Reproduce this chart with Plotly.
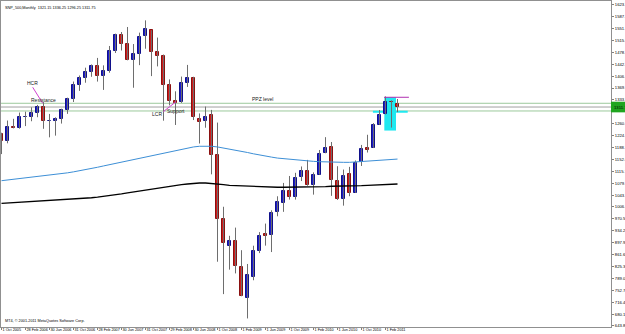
import plotly.graph_objects as go

# ---------------- data ----------------
months = []
y, m = 2005, 10
for _ in range(67):
    months.append(f"{y}-{m:02d}")
    m += 1
    if m > 12:
        m, y = 1, y + 1

opens = [1228.8, 1207.0, 1249.5, 1248.3, 1280.1, 1280.7, 1294.8, 1310.6, 1270.1, 1270.2,
         1276.7, 1303.8, 1335.9, 1377.9, 1400.6, 1418.0, 1437.9, 1406.8, 1420.8, 1482.4,
         1530.6, 1504.7, 1455.2, 1474.0, 1527.3, 1545.8, 1479.6, 1468.0, 1378.6, 1330.5,
         1326.4, 1386.0, 1399.6, 1276.7, 1269.4, 1287.8, 1164.2, 968.7, 888.6, 903.0,
         823.1, 729.6, 793.6, 872.7, 923.3, 920.8, 990.2, 1019.5, 1054.9, 1036.2,
         1098.9, 1116.6, 1073.9, 1105.4, 1171.2, 1188.6, 1087.3, 1031.1, 1107.5, 1049.7,
         1143.5, 1185.7, 1186.6, 1257.6, 1289.1, 1328.6, 1321.15]
highs = [1233.3, 1270.6, 1275.8, 1294.9, 1297.6, 1310.9, 1318.2, 1326.7, 1290.7, 1280.4,
         1306.7, 1340.3, 1389.5, 1407.9, 1431.8, 1441.6, 1461.6, 1438.9, 1498.0, 1535.6,
         1540.6, 1555.9, 1503.9, 1538.7, 1576.1, 1545.8, 1523.6, 1471.8, 1396.0, 1359.7,
         1404.6, 1440.2, 1404.1, 1292.2, 1313.2, 1303.0, 1264.3, 1007.5, 918.9, 943.9,
         875.0, 833.0, 888.7, 930.2, 956.2, 996.7, 1039.5, 1080.2, 1101.4, 1111.1,
         1130.4, 1150.5, 1112.4, 1180.7, 1219.8, 1205.1, 1131.2, 1121.0, 1129.2, 1148.7,
         1196.1, 1227.1, 1262.6, 1302.7, 1344.1, 1332.3, 1336.25]
lows = [1168.2, 1201.1, 1246.6, 1245.7, 1253.6, 1268.4, 1280.7, 1245.3, 1219.3, 1224.5,
        1261.3, 1290.9, 1327.1, 1361.0, 1385.9, 1404.0, 1389.4, 1364.0, 1416.4, 1476.7,
        1484.2, 1454.3, 1370.6, 1439.5, 1489.6, 1406.1, 1435.7, 1270.1, 1316.8, 1257.0,
        1324.4, 1373.1, 1272.0, 1200.4, 1248.6, 1106.4, 839.8, 741.0, 815.7, 804.2,
        734.5, 666.8, 783.3, 866.1, 888.9, 869.3, 978.5, 992.0, 1029.4, 1029.4,
        1085.9, 1071.6, 1044.5, 1105.4, 1170.7, 1040.8, 1028.3, 1010.9, 1039.7, 1049.7,
        1131.9, 1173.0, 1186.6, 1257.6, 1289.1, 1249.1, 1296.25]
closes = [1207.0, 1249.5, 1248.3, 1280.1, 1280.7, 1294.8, 1310.6, 1270.1, 1270.2, 1276.7,
          1303.8, 1335.9, 1377.9, 1400.6, 1418.3, 1438.2, 1406.8, 1420.9, 1482.4, 1530.6,
          1503.4, 1455.3, 1474.0, 1526.8, 1549.4, 1481.1, 1468.4, 1378.6, 1330.6, 1322.7,
          1385.6, 1400.4, 1280.0, 1267.4, 1282.8, 1166.4, 968.8, 896.2, 903.3, 825.9,
          735.1, 797.9, 872.8, 919.1, 919.3, 987.5, 1020.6, 1057.1, 1036.2, 1095.6,
          1115.1, 1073.9, 1104.5, 1169.4, 1186.7, 1089.4, 1030.7, 1101.6, 1049.3, 1141.2,
          1183.3, 1180.6, 1257.6, 1286.1, 1327.2, 1325.8, 1311.75]

ma_blue = [1087, 1089, 1091, 1093, 1095, 1097, 1099, 1101, 1103, 1105,
           1108, 1111, 1114, 1117, 1120, 1124, 1128, 1132, 1136, 1140,
           1144, 1148, 1152, 1156, 1160, 1164, 1168, 1172, 1176, 1180,
           1184, 1187, 1190, 1192, 1193, 1192, 1190, 1187, 1184, 1181,
           1177, 1173, 1169, 1165, 1162, 1159, 1156, 1154, 1152, 1150,
           1148, 1147, 1146, 1145, 1144, 1144, 1143, 1143, 1143, 1144,
           1145, 1146, 1147, 1149, 1150, 1152, 1153]
ma_black = [1018, 1019, 1020, 1021, 1022, 1023, 1024, 1025, 1026, 1027,
            1028, 1029, 1030, 1031, 1033, 1035, 1037, 1039, 1041, 1044,
            1047, 1050, 1053, 1056, 1059, 1062, 1065, 1068, 1071, 1073,
            1075, 1077, 1079, 1080, 1080, 1079, 1077, 1075, 1073, 1072,
            1071, 1070, 1069, 1068, 1068, 1067, 1067, 1067, 1067, 1068,
            1068, 1068, 1069, 1069, 1069, 1070, 1070, 1070, 1071, 1071,
            1072, 1073, 1074, 1075, 1075, 1076, 1077]

x_tick_months = ["2005-10", "2006-02", "2006-06", "2006-10", "2007-02", "2007-06",
                 "2007-10", "2008-02", "2008-06", "2008-10", "2009-02", "2009-06",
                 "2009-10", "2010-02", "2010-06", "2010-10", "2011-02"]
x_tick_text = ["1 Oct 2005", "28 Feb 2006", "30 Jun 2006", "31 Oct 2006", "28 Feb 2007",
               "30 Jun 2007", "31 Oct 2007", "29 Feb 2008", "30 Jun 2008", "1 Oct 2008",
               "1 Feb 2009", "1 Jun 2009", "1 Oct 2009", "1 Feb 2010", "1 Jun 2010",
               "1 Oct 2010", "1 Feb 2011"]
y_tick_vals = [643.80, 680.10, 716.40, 752.70, 789.00, 825.30, 861.60, 897.90, 934.20,
               970.50, 1006.80, 1043.10, 1079.40, 1115.70, 1152.00, 1188.30, 1224.60,
               1260.90, 1333.50, 1369.80, 1406.10, 1442.40, 1478.70, 1515.00, 1551.30,
               1587.60, 1623.90]

ppz_upper, ppz_lower = 1323.2, 1299.7
bid_price = 1311.75
title_text = "SNP_500,Monthly  1321.15 1336.25 1296.25 1311.75"

# ---------------- figure ----------------
idx = list(range(len(months)))
pos = {mm: i for i, mm in enumerate(months)}
small = dict(family="Liberation Sans", size=3.8, color="#000000")

fig = go.Figure()

# wicks
wx, wy = [], []
for i in idx:
    wx += [i, i, None]
    wy += [lows[i], highs[i], None]
fig.add_trace(go.Scatter(x=wx, y=wy, mode="lines", line=dict(color="#6e6e6e", width=1),
                         hoverinfo="skip", showlegend=False))

# moving averages
fig.add_trace(go.Scatter(x=idx, y=ma_blue, mode="lines", line=dict(color="#3d8fd6", width=1),
                         showlegend=False))
fig.add_trace(go.Scatter(x=idx, y=ma_black, mode="lines", line=dict(color="#000000", width=1.3),
                         showlegend=False))

# bodies
base = [min(o, c) for o, c in zip(opens, closes)]
hgt = [abs(c - o) for o, c in zip(opens, closes)]
fill = ["#1c1cd0" if c >= o else "#d41a1a" for o, c in zip(opens, closes)]
edge = ["#10108a" if c >= o else "#8a1010" for o, c in zip(opens, closes)]
fig.add_trace(go.Bar(x=idx, y=hgt, base=base, width=0.6,
                     marker=dict(color=fill, line=dict(color=edge, width=1)),
                     showlegend=False))

shapes = []
# PPZ zone lines
for p, col in [(ppz_upper, "#9cc99c"), (ppz_lower, "#9cc99c"), (bid_price, "#a0a0a0")]:
    shapes.append(dict(type="line", xref="paper", x0=0, x1=1, yref="y", y0=p, y1=p,
                       line=dict(color=col, width=1), layer="below"))
# cyan box / lines around the latest candles
shapes.append(dict(type="rect", xref="x", yref="y", x0=63.8, x1=65.75, y0=1240, y1=1342,
                   fillcolor="#20e8f0", line=dict(width=0), layer="below"))
shapes.append(dict(type="line", xref="x", yref="y", x0=61.9, x1=67.7, y0=1297.5, y1=1297.5,
                   line=dict(color="#20e8f0", width=2), layer="below"))
shapes.append(dict(type="line", xref="x", yref="y", x0=63.75, x1=67.9, y0=1341.5, y1=1341.5,
                   line=dict(color="#b030b0", width=1)))
# HCR / LCR pointers
shapes.append(dict(type="line", xref="x", yref="y", x0=5.2, y0=1372, x1=6.87, y1=1323.2,
                   line=dict(color="#d040d0", width=1)))
shapes.append(dict(type="line", xref="x", yref="y", x0=26.97, y0=1297.5, x1=29.08, y1=1328,
                   line=dict(color="#d040d0", width=1)))
# bid price label box on the price axis
shapes.append(dict(type="rect", xref="paper", yref="y", x0=1.0, x1=1.03, y0=1295.5, y1=1328,
                   fillcolor="#1fa51f", line=dict(width=0), layer="above"))

fnt = dict(family="Liberation Sans", size=5, color="#202020")
annotations = [
    dict(x=5.17, y=1386, text="HCR"),
    dict(x=7.08, y=1333, text="Resistance"),
    dict(x=25.97, y=1289.6, text="LCR"),
    dict(x=29.0, y=1300.6, text="Support"),
    dict(x=43.5, y=1335.4, text="PPZ level"),
]
for a in annotations:
    a.update(xref="x", yref="y", showarrow=False, font=fnt)
annotations.append(dict(xref="paper", yref="paper", x=0.004, y=0.992, xanchor="left",
                        yanchor="top", text=title_text, showarrow=False, font=small))
annotations.append(dict(xref="paper", yref="paper", x=0.003, y=0.006, xanchor="left",
                        yanchor="bottom", text="MT4, © 2001-2011 MetaQuotes Software Corp.",
                        showarrow=False, font=small))
annotations.append(dict(xref="paper", yref="y", x=1.002, y=bid_price, xanchor="left",
                        text=f"{bid_price:.2f}", showarrow=False,
                        font=dict(family="Liberation Sans", size=4.2, color="#000000")))

fig.update_layout(
    width=625, height=334,
    margin=dict(l=1, r=14, t=1, b=7, autoexpand=False),
    paper_bgcolor="white", plot_bgcolor="white",
    shapes=shapes, annotations=annotations,
    bargap=0, showlegend=False,
    xaxis=dict(range=[-0.083, 101.58], tickmode="array",
               tickvals=[pos[mm] for mm in x_tick_months], ticktext=x_tick_text,
               ticks="outside", ticklen=2, tickcolor="#808080", tickangle=0,
               ticklabelposition="outside right", ticklabelstandoff=-2,
               tickfont=small,
               showgrid=False, zeroline=False, showline=True, linecolor="#909090",
               linewidth=1, mirror=True, fixedrange=True),
    yaxis=dict(range=[640.7, 1635.2], side="right", tickmode="array",
               tickvals=y_tick_vals, ticktext=[f"{v:.2f}" for v in y_tick_vals],
               ticks="outside", ticklen=2, tickcolor="#808080",
               tickfont=dict(family="Liberation Sans", size=4.2, color="#000000"),
               showgrid=False, zeroline=False, showline=True, linecolor="#909090",
               linewidth=1, mirror=True, fixedrange=True),
)

fig.write_html("out.html")
